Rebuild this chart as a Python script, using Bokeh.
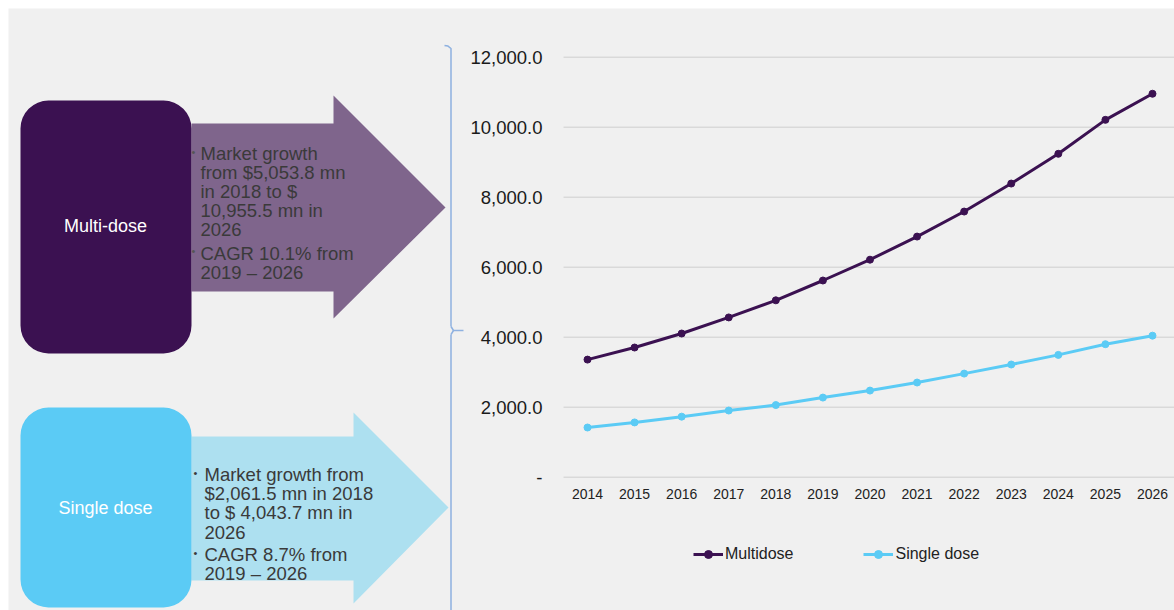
from bokeh.plotting import figure
from bokeh.models import Range1d, FixedTicker, LinearAxis
from bokeh.core.properties import value
from bokeh.embed import file_html
from bokeh.resources import INLINE

# ---------------- data ----------------
years = [2014, 2015, 2016, 2017, 2018, 2019, 2020, 2021, 2022, 2023, 2024, 2025, 2026]
multidose = [3360, 3705, 4105, 4565, 5053.8, 5620, 6215, 6875, 7590, 8390, 9240, 10210, 10955.5]
single_dose = [1420, 1565, 1730, 1905, 2061.5, 2275, 2475, 2705, 2960, 3220, 3495, 3800, 4043.7]
y_ticks = [0, 2000, 4000, 6000, 8000, 10000, 12000]
y_tick_labels = ["-", "2,000.0", "4,000.0", "6,000.0", "8,000.0", "10,000.0", "12,000.0"]
series_names = ["Multidose", "Single dose"]

multi_title = "Multi-dose"
multi_par1 = ["Market growth", "from $5,053.8 mn", "in 2018 to $", "10,955.5 mn in", "2026"]
multi_par2 = ["CAGR 10.1% from", "2019 – 2026"]
single_title = "Single dose"
single_par1 = ["Market growth from", "$2,061.5 mn in 2018", "to $ 4,043.7 mn in", "2026"]
single_par2 = ["CAGR 8.7% from", "2019 – 2026"]

# ---------------- style / layout ----------------
W, H = 1174, 610
BG = "#f0f0f0"
FONT = "Liberation Sans"
C_MULTI = "#3b1151"
C_MULTI_ARROW = "#7f658c"
C_SINGLE = "#5bcbf5"
C_SINGLE_ARROW = "#ade0f0"
TXT = "#3a3a3a"

# chart placement in page pixels
X_FIRST_PX, X_STEP_PX = 587.0, 47.083      # pixel of first category, pixels per year
Y_ZERO_PX, Y_PX_PER_UNIT = 476.7, 0.035     # pixel of value 0, pixels per unit
CHART_LEFT_PX = 563.0

yr_start = years[0] - X_FIRST_PX / X_STEP_PX
yr_end = years[0] + (W - X_FIRST_PX) / X_STEP_PX
val_start = (Y_ZERO_PX - H) / Y_PX_PER_UNIT
val_end = Y_ZERO_PX / Y_PX_PER_UNIT

p = figure(width=W, height=H, x_range=Range1d(0, W), y_range=Range1d(H, 0),
           output_backend="svg", toolbar_location=None,
           min_border=0, min_border_left=0, min_border_right=0,
           min_border_top=0, min_border_bottom=0)
p.extra_x_ranges = {"yr": Range1d(yr_start, yr_end)}
p.extra_y_ranges = {"val": Range1d(val_start, val_end)}
p.axis.visible = False
p.grid.visible = False
p.outline_line_color = None
p.background_fill_color = "white"
p.border_fill_color = "white"

# gray slide background
p.quad(left=[8], right=[W], top=[8], bottom=[H], fill_color=BG, line_color=None)

# ---------------- left decorative panel ----------------
p.patch([191, 333, 333, 445, 333, 333, 191], [123, 123, 95, 207, 318, 291, 291],
        fill_color=C_MULTI_ARROW, line_color=None)
p.patch([191, 353, 353, 448, 353, 353, 191], [436, 436, 412, 507, 603, 580, 580],
        fill_color=C_SINGLE_ARROW, line_color=None)
p.quad(left=[20], right=[191], top=[100], bottom=[353], border_radius=28,
       fill_color=C_MULTI, line_color=None)
p.quad(left=[20], right=[191], top=[407], bottom=[607], border_radius=28,
       fill_color=C_SINGLE, line_color=None)

p.text(x=[105], y=[225], text=[multi_title], text_font=value(FONT), text_font_size="18px",
       text_color="white", text_align="center", text_baseline="middle")
p.text(x=[105], y=[507], text=[single_title], text_font=value(FONT), text_font_size="18px",
       text_color="white", text_align="center", text_baseline="middle")

def paragraph(lines, x, y0, step, bullet_x, bullet_color):
    ys = [y0 + i * step for i in range(len(lines))]
    p.text(x=[x] * len(lines), y=ys, text=lines, text_font=value(FONT),
           text_font_size="18.5px", text_color=TXT, text_align="left",
           text_baseline="alphabetic")
    p.text(x=[bullet_x], y=[y0 - 2], text=["•"], text_font=value(FONT),
           text_font_size="11px", text_color=bullet_color, text_align="left",
           text_baseline="alphabetic")

paragraph(multi_par1, 200, 153, 19, 191, "#555555")
paragraph(multi_par2, 200, 252.5, 19, 191, "#555555")
paragraph(single_par1, 204, 474, 19.2, 193, TXT)
paragraph(single_par2, 204, 554, 19, 193, TXT)

# bracket
BR = "#8eb1e0"
p.line([444, 447.5, 450.5, 450.5], [45, 45.6, 48, 326], line_color=BR, line_width=1.5)
p.line([450.5, 450.5], [334, H], line_color=BR, line_width=1.5)
p.line([450.5, 453, 463], [326, 330, 330], line_color=BR, line_width=1.5)
p.line([450.5, 453], [334, 330], line_color=BR, line_width=1.5)

# ---------------- chart ----------------
grid_x0 = years[0] - (X_FIRST_PX - CHART_LEFT_PX) / X_STEP_PX
p.segment(x0=[grid_x0] * len(y_ticks), x1=[yr_end] * len(y_ticks), y0=y_ticks, y1=y_ticks,
          line_color="#d9d9d9", line_width=1.5, x_range_name="yr", y_range_name="val")

p.line(years, multidose, line_color=C_MULTI, line_width=3, legend_label=series_names[0],
       x_range_name="yr", y_range_name="val")
p.scatter(years, multidose, size=7, fill_color=C_MULTI, line_color=C_MULTI,
          legend_label=series_names[0], x_range_name="yr", y_range_name="val")
p.line(years, single_dose, line_color=C_SINGLE, line_width=3, legend_label=series_names[1],
       x_range_name="yr", y_range_name="val")
p.scatter(years, single_dose, size=7, fill_color=C_SINGLE, line_color=C_SINGLE,
          legend_label=series_names[1], x_range_name="yr", y_range_name="val")

yaxis = LinearAxis(y_range_name="val", fixed_location=CHART_LEFT_PX,
                   ticker=FixedTicker(ticks=y_ticks),
                   major_label_overrides={t: l for t, l in zip(y_ticks, y_tick_labels)})
yaxis.axis_line_color = None
yaxis.major_tick_line_color = None
yaxis.minor_tick_line_color = None
yaxis.major_tick_out = 0
yaxis.major_tick_in = 0
yaxis.major_label_standoff = 21
yaxis.major_label_text_font = FONT
yaxis.major_label_text_font_size = "18.5px"
yaxis.major_label_text_color = "#1a1a1a"
p.add_layout(yaxis, "left")

xaxis = LinearAxis(x_range_name="yr", fixed_location=Y_ZERO_PX,
                   ticker=FixedTicker(ticks=years),
                   major_label_overrides={y: str(y) for y in years})
xaxis.axis_line_color = None
xaxis.major_tick_line_color = None
xaxis.minor_tick_line_color = None
xaxis.major_tick_out = 0
xaxis.major_tick_in = 0
xaxis.major_label_standoff = 12
xaxis.major_label_text_font = FONT
xaxis.major_label_text_font_size = "14px"
xaxis.major_label_text_color = "#222222"
p.add_layout(xaxis, "below")

lg = p.legend[0]
lg.orientation = "horizontal"
lg.location = (693, 46)
lg.background_fill_alpha = 0
lg.border_line_color = None
lg.padding = 0
lg.margin = 0
lg.spacing = 70
lg.glyph_width = 30
lg.label_standoff = 2
lg.label_text_font = FONT
lg.label_text_font_size = "16px"
lg.label_text_color = "#222222"

open("out.html", "w").write(file_html(p, INLINE))
